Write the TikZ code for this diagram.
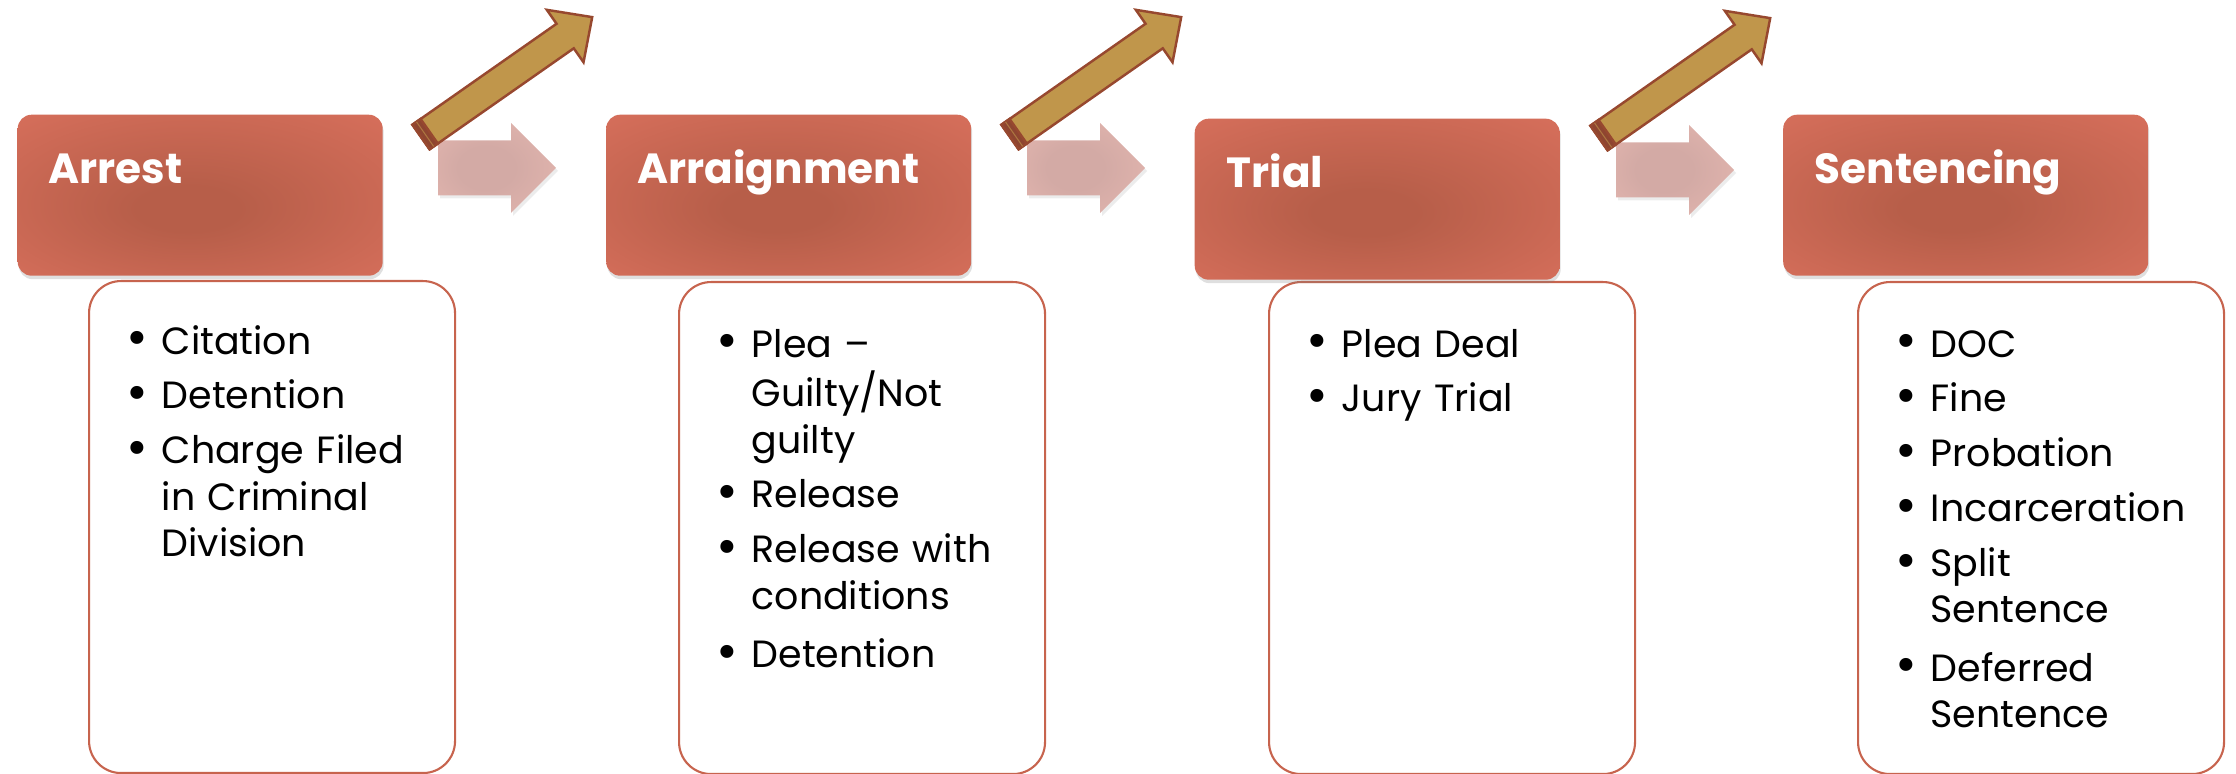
\documentclass[tikz,border=0pt]{standalone}
\usepackage{fontspec}
\setmainfont{Poppins}
\usetikzlibrary{shadows}
\definecolor{stagelight}{HTML}{E27562}
\definecolor{stagedark}{HTML}{B75E49}
\definecolor{listline}{HTML}{C7644E}
\definecolor{flowlight}{HTML}{EDBDB5}
\definecolor{flowdark}{HTML}{D3AAA5}
\definecolor{skipfill}{HTML}{C0964B}
\definecolor{skipline}{HTML}{97482F}
\definecolor{skipend}{HTML}{8E4530}
\pgfdeclareradialshading{stageglow}{\pgfpoint{-2bp}{-5bp}}%
  {color(0bp)=(stagedark); color(7bp)=(stagedark); color(48bp)=(stagelight)}
\pgfdeclareradialshading{flowglow}{\pgfpoint{-6bp}{0bp}}%
  {color(0bp)=(flowdark); color(12bp)=(flowdark); color(50bp)=(flowlight)}
\newcommand{\listfont}{\fontsize{10.8}{13.2}\selectfont}
\newcommand{\litem}[1]{\par\noindent
  \makebox[0.35cm][l]{\fontsize{15}{15}\selectfont\raisebox{-0.5pt}{\textbullet}}%
  \parbox[t]{2.65cm}{\raggedright\listfont\lineskip=0pt\strut#1\strut}}
\tikzset{
  stagebox/.style={rectangle,anchor=north west,inner sep=0,rounded corners=0.14cm,
    minimum width=3.65cm,minimum height=1.61cm,shading=stageglow,
    drop shadow={opacity=0.25,shadow xshift=0.01cm,shadow yshift=-0.035cm}},
  stagetext/.style={anchor=base west,inner sep=0,text=white,
    font=\fontsize{12}{15}\selectfont\bfseries},
  listbox/.style={rectangle,anchor=north west,draw=listline,line width=0.6pt,fill=white,
    rounded corners=0.32cm,minimum width=3.66cm,minimum height=4.92cm},
  listtext/.style={anchor=north west,inner sep=0,text width=3.0cm,align=left,
    font=\listfont},
  flowarrow/.style={shading=flowglow,
    drop shadow={opacity=0.15,shadow xshift=0.02cm,shadow yshift=-0.03cm}},
  skiparrow/.style={draw=skipline,fill=skipfill,line width=0.7pt},
}

\begin{document}
\begin{tikzpicture}
  \useasboundingbox (0,0) rectangle (22.36,-7.74);

  \node[listbox] (arrestlist) at (0.88,-2.80) {};
  \node[listbox] (arraignlist) at (6.78,-2.81) {};
  \node[listbox] (triallist) at (12.68,-2.81) {};
  \node[listbox] (sentencelist) at (18.57,-2.81) {};

  \node[stagebox] (arrest) at (0.17,-1.14) {};
  \node[stagebox] (arraign) at (6.055,-1.14) {};
  \node[stagebox] (trial) at (11.94,-1.18) {};
  \node[stagebox] (sentence) at (17.825,-1.14) {};

  \begin{scope}[shift={(4.38,-1.68)}]
    \path[flowarrow] (0,0.275)--(0.73,0.275)--(0.73,0.45)--(1.18,0)
      --(0.73,-0.45)--(0.73,-0.275)--(0,-0.275)--cycle;
  \end{scope}
  \begin{scope}[shift={(10.27,-1.68)}]
    \path[flowarrow] (0,0.275)--(0.73,0.275)--(0.73,0.45)--(1.18,0)
      --(0.73,-0.45)--(0.73,-0.275)--(0,-0.275)--cycle;
  \end{scope}
  \begin{scope}[shift={(16.16,-1.70)}]
    \path[flowarrow] (0,0.275)--(0.73,0.275)--(0.73,0.45)--(1.18,0)
      --(0.73,-0.45)--(0.73,-0.275)--(0,-0.275)--cycle;
  \end{scope}

  \begin{scope}[shift={(4.21,-1.37)},rotate=35]
    \path[skiparrow] (0,-0.15)--(1.76,-0.15)--(1.76,-0.32)--(2.09,0)
      --(1.76,0.32)--(1.76,0.15)--(0,0.15)--cycle;
    \path[skiparrow,fill=skipend] (0,-0.15) rectangle (0.10,0.15);
    \draw[skipfill!60!skipend,line width=0.3pt] (0.05,-0.15)--(0.05,0.15);
  \end{scope}
  \begin{scope}[shift={(10.10,-1.37)},rotate=35]
    \path[skiparrow] (0,-0.15)--(1.76,-0.15)--(1.76,-0.32)--(2.09,0)
      --(1.76,0.32)--(1.76,0.15)--(0,0.15)--cycle;
    \path[skiparrow,fill=skipend] (0,-0.15) rectangle (0.10,0.15);
    \draw[skipfill!60!skipend,line width=0.3pt] (0.05,-0.15)--(0.05,0.15);
  \end{scope}
  \begin{scope}[shift={(15.99,-1.38)},rotate=35]
    \path[skiparrow] (0,-0.15)--(1.76,-0.15)--(1.76,-0.32)--(2.09,0)
      --(1.76,0.32)--(1.76,0.15)--(0,0.15)--cycle;
    \path[skiparrow,fill=skipend] (0,-0.15) rectangle (0.10,0.15);
    \draw[skipfill!60!skipend,line width=0.3pt] (0.05,-0.15)--(0.05,0.15);
  \end{scope}

  \node[stagetext] (arrestname) at (0.48,-1.84) {Arrest};
  \node[stagetext] (arraignname) at (6.37,-1.84) {Arraignment};
  \node[stagetext] (trialname) at (12.26,-1.88) {Trial};
  \node[stagetext] (sentencename) at (18.14,-1.84) {Sentencing};

  \node[listtext] (arrestitems) at (1.26,-2.985)
    {\parskip=2.4pt \lineskip=0pt
     \litem{Citation}
     \litem{Detention}
     \litem{Charge Filed\\in Criminal\\Division}};
  \node[listtext] (arraignitems) at (7.16,-3.015)
    {\parskip=2.4pt \lineskip=0pt
     \litem{Plea –\\Guilty/Not\\guilty}
     \litem{Release}
     \litem{Release with\\conditions}
     \litem{Detention}};
  \node[listtext] (trialitems) at (13.06,-3.015)
    {\parskip=2.4pt \lineskip=0pt
     \litem{Plea Deal}
     \litem{Jury Trial}};
  \node[listtext] (sentenceitems) at (18.95,-3.015)
    {\parskip=2.4pt \lineskip=0pt
     \litem{DOC}
     \litem{Fine}
     \litem{Probation}
     \litem{Incarceration}
     \litem{Split\\Sentence}
     \litem{Deferred\\Sentence}};
\end{tikzpicture}
\end{document}
